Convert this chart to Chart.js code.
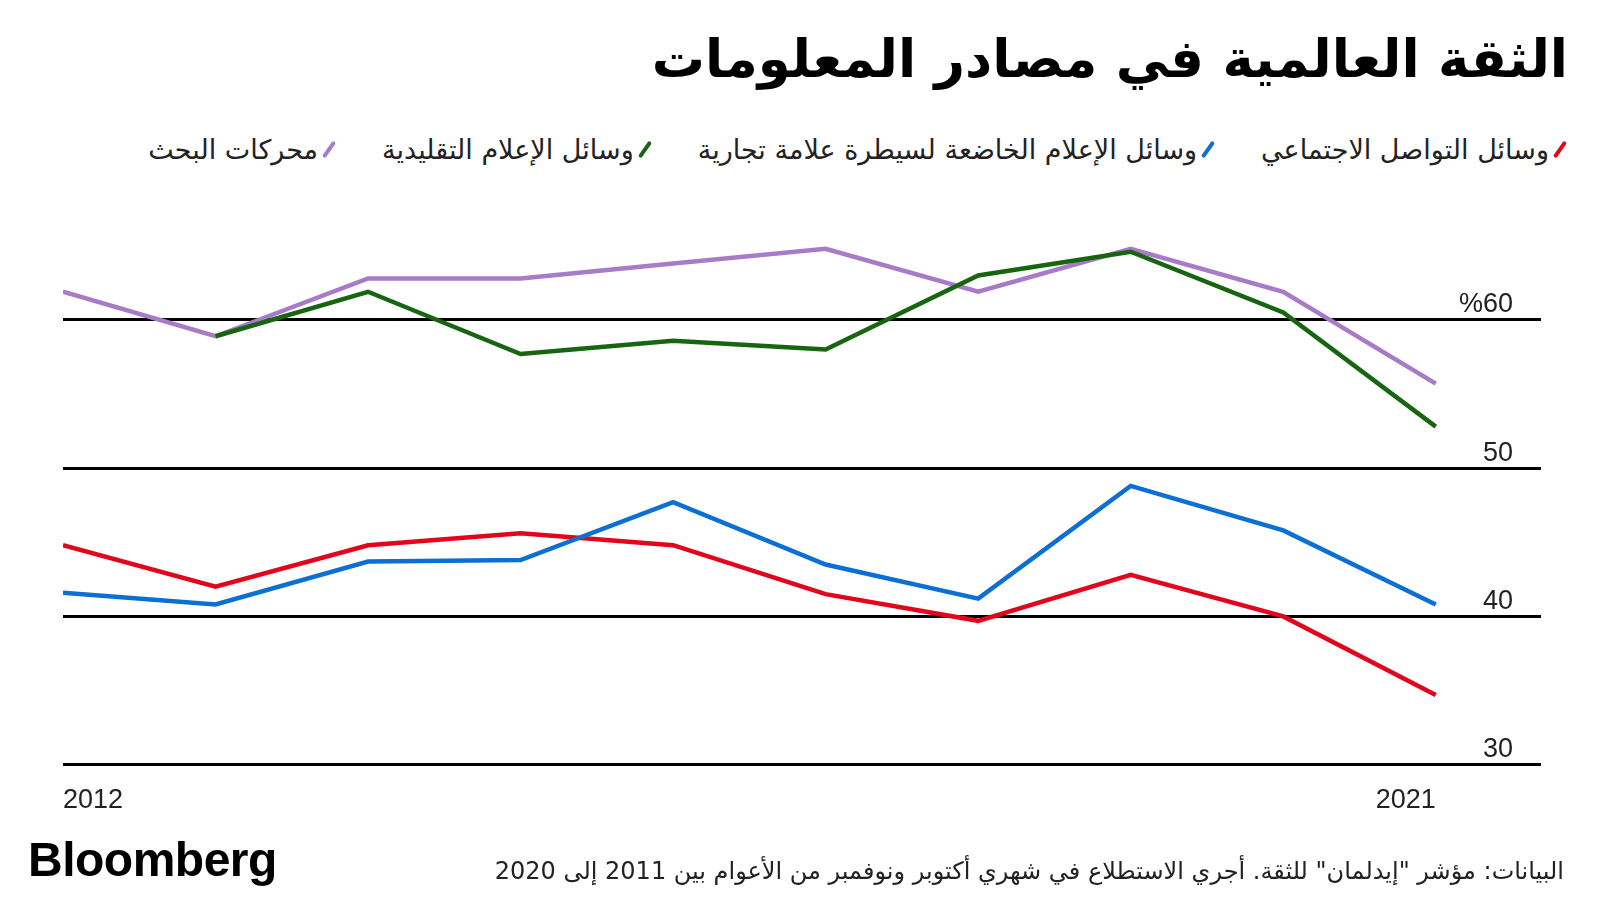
<!DOCTYPE html>
<html lang="ar">
<head>
<meta charset="utf-8">
<script src="https://cdn.jsdelivr.net/npm/chart.js@4"></script>
<style>
  body { margin: 0; width: 1600px; height: 900px; background: #fff; position: relative; overflow: hidden; font-family: "DejaVu Sans", sans-serif; color: #000; }
  .title { position: absolute; right: 32px; top: 28px; font-size: 53px; font-weight: bold; direction: rtl; white-space: nowrap; }
  .legend { position: absolute; right: 38px; top: 134px; display: flex; direction: rtl; gap: 51px; font-size: 27px; color: #222; white-space: nowrap; }
  .legend .item { display: flex; align-items: center; gap: 9px; }
  .legend .mark { display: inline-block; width: 4px; height: 19px; transform: rotate(35deg); border-radius: 2px; }
  .chart-box { position: absolute; left: 0; top: 200px; width: 1600px; height: 660px; }
  .logo { position: absolute; left: 28px; top: 832px; font-family: "Liberation Sans", Arial, sans-serif; font-weight: bold; font-size: 48px; letter-spacing: -0.5px; }
  .source { position: absolute; right: 36px; top: 857px; font-size: 24px; direction: rtl; color: #222; white-space: nowrap; }
</style>
</head>
<body>
<div class="title">الثقة العالمية في مصادر المعلومات</div>
<div class="legend" id="legend"></div>
<div class="chart-box"><canvas id="chart" width="1600" height="660"></canvas></div>
<div class="logo">Bloomberg</div>
<div class="source">البيانات: مؤشر "إيدلمان" للثقة. أجري الاستطلاع في شهري أكتوبر ونوفمبر من الأعوام بين 2011 إلى 2020</div>
<script>
  // Data
  const years = [2012, 2013, 2014, 2015, 2016, 2017, 2018, 2019, 2020, 2021];
  const socialMedia = [44.8, 42.0, 44.8, 45.6, 44.8, 41.5, 39.7, 42.8, 40.0, 34.7];
  const ownedMedia = [41.6, 40.8, 43.7, 43.8, 47.7, 43.5, 41.2, 48.8, 45.8, 40.8];
  const traditionalMedia = [null, 58.9, 61.9, 57.7, 58.6, 58.0, 63.0, 64.6, 60.5, 52.8];
  const searchEngines = [61.9, 58.9, 62.8, 62.8, 63.8, 64.8, 61.9, 64.8, 61.9, 55.7];
  const yTicks = [30, 40, 50, 60];
  const xTicks = [2012, 2021];

  const series = [
    { label: "وسائل التواصل الاجتماعي", data: socialMedia, color: "#e2061c" },
    { label: "وسائل الإعلام الخاضعة لسيطرة علامة تجارية", data: ownedMedia, color: "#0c6fd3" },
    { label: "وسائل الإعلام التقليدية", data: traditionalMedia, color: "#17650f" },
    { label: "محركات البحث", data: searchEngines, color: "#a77bc8" }
  ];

  // Legend (RTL, marker before text)
  const legend = document.getElementById("legend");
  series.forEach(s => {
    const item = document.createElement("div");
    item.className = "item";
    const mark = document.createElement("span");
    mark.className = "mark";
    mark.style.background = s.color;
    const txt = document.createElement("span");
    txt.textContent = s.label;
    item.appendChild(mark);
    item.appendChild(txt);
    legend.appendChild(item);
  });

  // draw order: green on top, then purple, red, blue
  const drawOrder = [2, 3, 1, 0];

  const ctx = document.getElementById("chart").getContext("2d");
  new Chart(ctx, {
    type: "line",
    data: {
      datasets: series.map((s, i) => ({
        label: s.label,
        data: years.map((y, j) => ({ x: y, y: s.data[j] })),
        borderColor: s.color,
        borderWidth: 4.5,
        pointRadius: 0,
        tension: 0,
        fill: false,
        order: drawOrder.indexOf(i)
      }))
    },
    options: {
      responsive: false,
      animation: false,
      layout: { padding: { left: 63, right: 59, top: 31, bottom: 31 } },
      plugins: {
        legend: { display: false },
        tooltip: { enabled: false }
      },
      scales: {
        x: {
          type: "linear",
          min: 2012,
          max: 2021.69,
          afterBuildTicks: axis => { axis.ticks = xTicks.map(v => ({ value: v })); },
          grid: { display: false },
          border: { display: false },
          ticks: {
            align: "inner",
            maxRotation: 0,
            padding: 12,
            color: "#222",
            font: { family: "'Liberation Sans Narrow', 'Liberation Sans', Arial", size: 27 },
            callback: v => String(v)
          }
        },
        y: {
          position: "right",
          min: 30,
          max: 66,
          afterBuildTicks: axis => { axis.ticks = yTicks.map(v => ({ value: v })); },
          afterFit: axis => { axis.width = 0; },
          grid: { color: "#000", lineWidth: 3, drawTicks: false },
          border: { display: false },
          ticks: {
            mirror: true,
            padding: -28,
            labelOffset: -15,
            color: "#222",
            font: { family: "'Liberation Sans Narrow', 'Liberation Sans', Arial", size: 27 },
            callback: v => v === 60 ? "%60" : String(v)
          }
        }
      }
    }
  });
</script>
</body>
</html>
